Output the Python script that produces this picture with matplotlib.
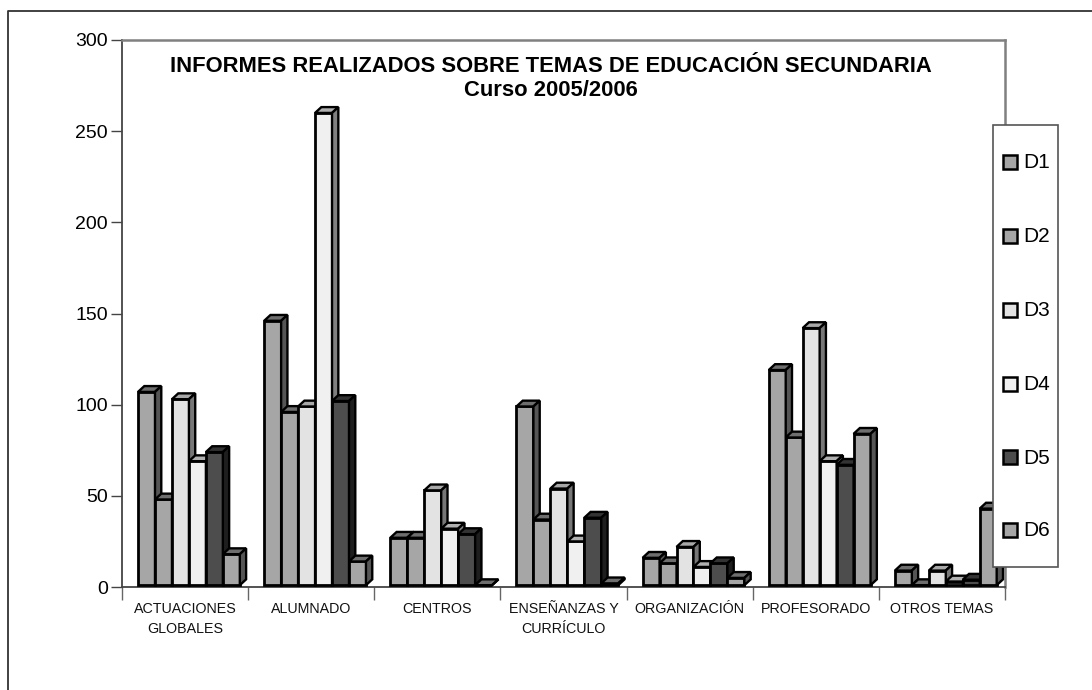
import numpy as np
import matplotlib
matplotlib.use('Agg')
import matplotlib.pyplot as plt
from matplotlib.patches import Polygon, Rectangle

plt.rcParams['font.family'] = ['Liberation Sans', 'DejaVu Sans']

temas = ['ACTUACIONES\nGLOBALES', 'ALUMNADO', 'CENTROS', 'ENSEÑANZAS Y\nCURRÍCULO',
         'ORGANIZACIÓN', 'PROFESORADO', 'OTROS TEMAS']
series = ['D1', 'D2', 'D3', 'D4', 'D5', 'D6']

d1 = [107, 146, 27, 99, 16, 119, 9]
d2 = [48, 96, 27, 37, 13, 82, 1]
d3 = [103, 99, 53, 54, 22, 142, 9]
d4 = [69, 260, 32, 25, 11, 69, 3]
d5 = [74, 102, 29, 38, 13, 67, 4]
d6 = [18, 14, 1, 2, 5, 84, 43]
valores = [d1, d2, d3, d4, d5, d6]

colores = ['#a6a6a6', '#a6a6a6', '#e3e3e3', '#f0f0f0', '#4d4d4d', '#a6a6a6']
techos = ['#6e6e6e', '#6e6e6e', '#a8a8a8', '#b0b0b0', '#333333', '#6e6e6e']
lados = ['#555555', '#555555', '#777777', '#808080', '#1e1e1e', '#555555']

W, H = 1092, 690
fig = plt.figure(figsize=(W / 100, H / 100), dpi=100)

# marco exterior
fig.add_artist(plt.Line2D([8 / W, 8 / W, 1092 / W], [0, 1 - 11 / H, 1 - 11 / H],
                          color='#333333', lw=1.3))

ax = fig.add_axes([122 / W, 1 - 587 / H, (1005 - 122) / W, (587 - 40) / H])
ax.set_xlim(0, 7)
ax.set_ylim(0, 300)

ancho = 0.1345
inicio = 0.127
dx = 0.05
dy = 3.2
base = 1.0

for i, vals in enumerate(valores):
    for j, v in enumerate(vals):
        x0 = j + inicio + i * ancho
        z = 2 * j * 10 + i  # cada barra tapa el lateral de la anterior
        ax.bar(x0, v - base, ancho, bottom=base, align='edge', color=colores[i],
               edgecolor='black', linewidth=2.0, zorder=3 + z, clip_on=False)
        ax.add_patch(Polygon([(x0, v), (x0 + dx, v + dy), (x0 + ancho + dx, v + dy), (x0 + ancho, v)],
                             facecolor=techos[i], edgecolor='black', lw=1.7, zorder=3 + z, clip_on=False))
        ax.add_patch(Polygon([(x0 + ancho, v), (x0 + ancho + dx, v + dy), (x0 + ancho + dx, base + dy), (x0 + ancho, base)],
                             facecolor=lados[i], edgecolor='black', lw=1.7, zorder=3 + z, clip_on=False))

for s in ['left', 'bottom']:
    ax.spines[s].set_color('#444444')
    ax.spines[s].set_linewidth(1.3)
ax.spines['top'].set_color('#808080')
ax.spines['top'].set_linewidth(1.8)
ax.spines['right'].set_color('#808080')
ax.spines['right'].set_linewidth(1.8)

ax.set_yticks(range(0, 301, 50))
ax.tick_params(axis='y', labelsize=14, length=8, width=1, color='#444444', pad=2)
ax.set_xticks(range(0, 8))
ax.set_xticklabels([])
ax.tick_params(axis='x', length=9, width=1, color='#666666')
for j, t in enumerate(temas):
    ax.text(j + 0.5, -8.0, t, ha='center', va='top', fontsize=10.3, linespacing=1.55,
            color='#111111', zorder=1)

fig.text(551 / W, 1 - 67 / H, 'INFORMES REALIZADOS SOBRE TEMAS DE EDUCACIÓN SECUNDARIA',
         ha='center', va='center', fontsize=15.8, fontweight='bold', zorder=500)
fig.text(551 / W, 1 - 90 / H, 'Curso 2005/2006', ha='center', va='center',
         fontsize=15.8, fontweight='bold', zorder=500)

# leyenda
fig.add_artist(Rectangle((993 / W, 1 - 567 / H), 65 / W, (567 - 125) / H, transform=fig.transFigure,
                         facecolor='white', edgecolor='#555555', lw=1.2, zorder=400))
ys = [162, 236, 310, 384, 457, 530]
for s, c, y in zip(series, colores, ys):
    fig.add_artist(Rectangle((1003 / W, 1 - (y + 7) / H), 14 / W, 14 / H, transform=fig.transFigure,
                             facecolor=c, edgecolor='black', lw=1.8, zorder=401))
    fig.text(1023 / W, 1 - (y + 1) / H, s, ha='left', va='center', fontsize=15, zorder=402)

fig.savefig('out.png', dpi=100)
